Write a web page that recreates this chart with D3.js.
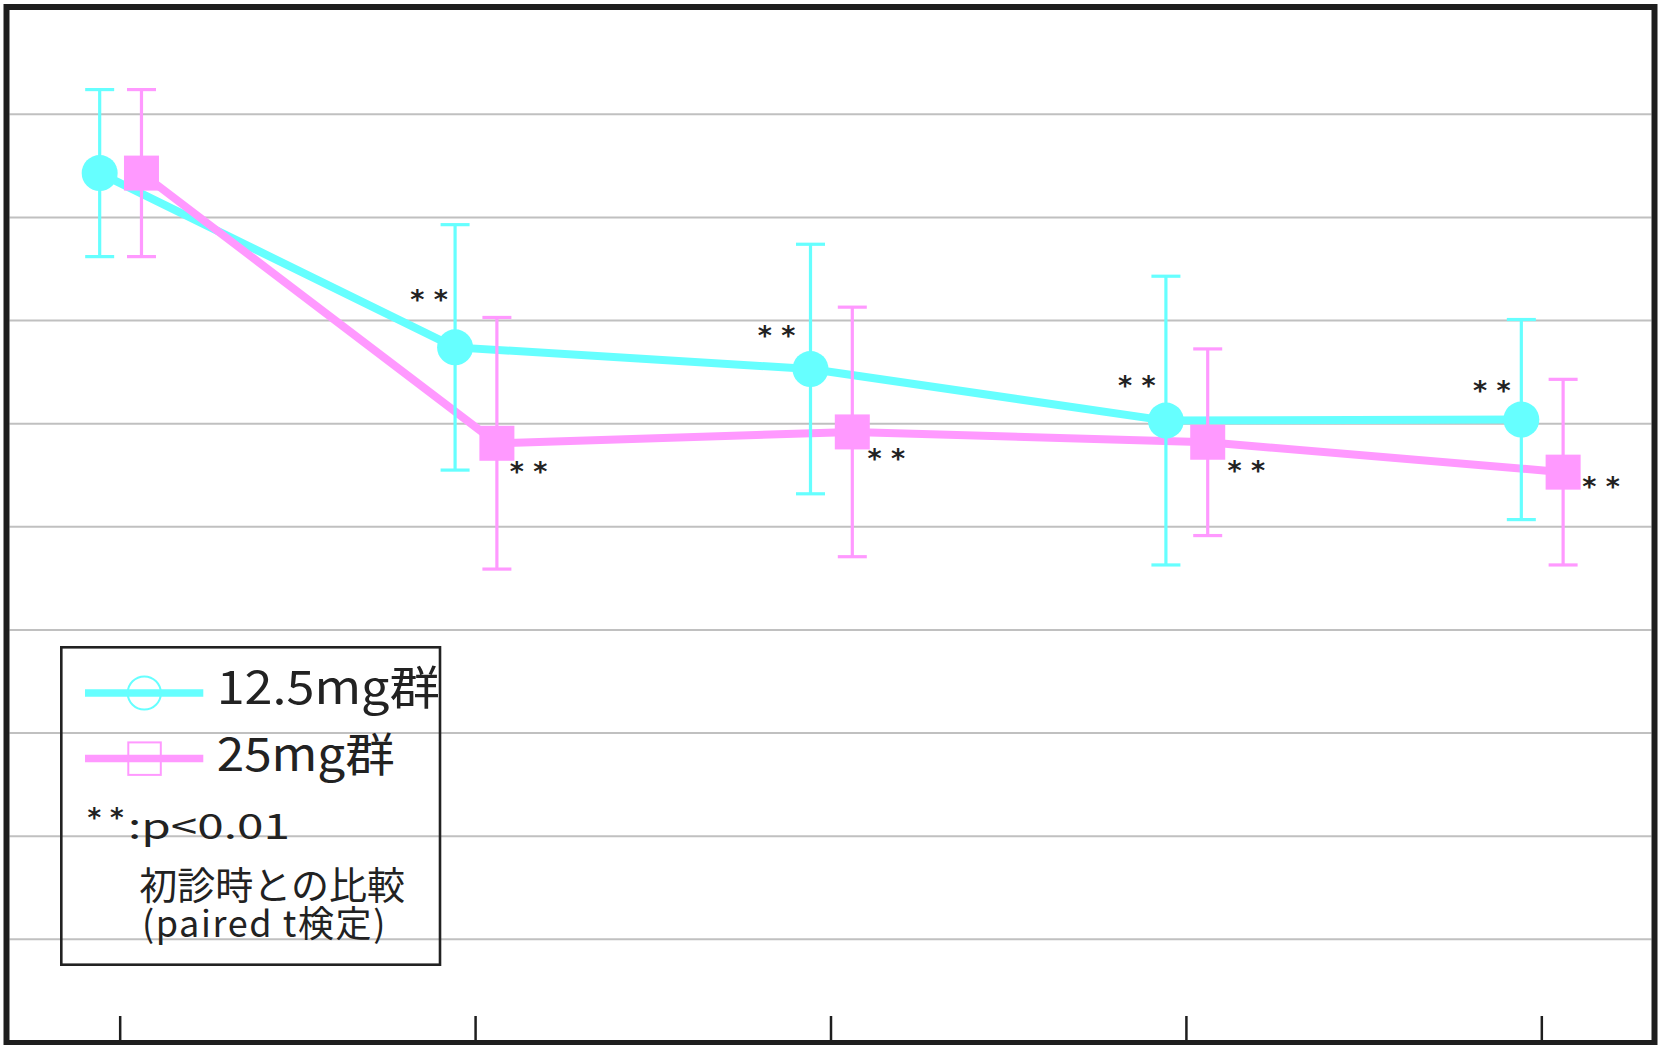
<!DOCTYPE html>
<html>
<head>
<meta charset="utf-8">
<script src="https://cdn.jsdelivr.net/npm/d3@7"></script>
<style>
  html, body { margin: 0; padding: 0; background: #ffffff; }
  svg { display: block; }
</style>
</head>
<body>
<svg id="chart" width="1662" height="1045"></svg>
<script>
// ---------------- DATA ----------------
const categories = ["t0", "t1", "t2", "t3", "t4"];           // time points (no labels shown)
const seriesNames = ["12.5mg群", "25mg群"];
const mean125 = [8.43, 6.74, 6.53, 6.03, 6.04];
const err125  = [0.81, 1.19, 1.21, 1.40, 0.97];
const sig125  = [false, true, true, true, true];
const mean25  = [8.43, 5.81, 5.92, 5.82, 5.53];
const err25   = [0.81, 1.22, 1.21, 0.905, 0.90];
const sig25   = [false, true, true, true, true];
const yTickValues = [1, 2, 3, 4, 5, 6, 7, 8, 9];
const sigText = "* *";
const legendNote = ["* *", ":p<0.01", "初診時との比較", "(paired t検定)"];

// ---------------- LAYOUT ----------------
const W = 1662, H = 1045;
const plot = { left: 9.5, right: 1651.5, top: 10, bottom: 1040 };
const cyan = "#66ffff", pink = "#ff99ff", ink = "#1e1e1e", grid = "#c0c0c0";
// label nudges (px) relative to each marker
const nudge125 = [[0, 0], [-26, -52], [-34, -38], [-29, -40], [-29.5, -34]];
const nudge25  = [[0, 0], [31.6, 24], [34, 22.5], [38.5, 24], [38, 10]];

const svg = d3.select("#chart");
svg.append("rect").attr("width", W).attr("height", H).attr("fill", "#fff");

const x = d3.scalePoint().domain(categories).range([plot.left, plot.right]).padding(0.31);
const dodge = d3.scalePoint().domain(seriesNames).range([-20, 21.8]);
const y = d3.scaleLinear().domain([0, 10]).range([1042.4, 11.2]);

// gridlines
svg.append("g").selectAll("line").data(yTickValues).join("line")
  .attr("x1", plot.left).attr("x2", plot.right)
  .attr("y1", d => y(d)).attr("y2", d => y(d))
  .attr("stroke", grid).attr("stroke-width", 2);

// bottom ticks (pointing up, no labels)
const xAxis = d3.axisBottom(x).tickSizeInner(-24).tickSizeOuter(0).tickFormat("");
const gx = svg.append("g").attr("transform", `translate(0,${plot.bottom})`).call(xAxis);
gx.select(".domain").remove();
gx.selectAll(".tick line").attr("stroke", ink).attr("stroke-width", 2.5);

const series = [
  { name: seriesNames[0], mean: mean125, err: err125, sig: sig125, color: cyan, shape: "circle", nudge: nudge125 },
  { name: seriesNames[1], mean: mean25,  err: err25,  sig: sig25,  color: pink, shape: "square", nudge: nudge25 }
];
series.forEach(s => {
  s.pts = categories.map((c, i) => ({ cx: x(c) + dodge(s.name), m: s.mean[i], e: s.err[i], sig: s.sig[i], i }));
});

// lines
const line = d3.line().x(d => d.cx).y(d => y(d.m));
series.forEach(s => {
  svg.append("path").datum(s.pts).attr("d", line)
    .attr("fill", "none").attr("stroke", s.color).attr("stroke-width", 8)
    .attr("stroke-linejoin", "round");
});

// error bars
series.forEach(s => {
  const g = svg.append("g").attr("stroke", s.color).attr("stroke-width", 3.2);
  g.selectAll("line.v").data(s.pts).join("line").attr("class", "v")
    .attr("x1", d => d.cx).attr("x2", d => d.cx)
    .attr("y1", d => y(d.m + d.e)).attr("y2", d => y(d.m - d.e));
  g.selectAll("line.t").data(s.pts).join("line").attr("class", "t")
    .attr("x1", d => d.cx - 14.5).attr("x2", d => d.cx + 14.5)
    .attr("y1", d => y(d.m + d.e)).attr("y2", d => y(d.m + d.e));
  g.selectAll("line.b").data(s.pts).join("line").attr("class", "b")
    .attr("x1", d => d.cx - 14.5).attr("x2", d => d.cx + 14.5)
    .attr("y1", d => y(d.m - d.e)).attr("y2", d => y(d.m - d.e));
});

// markers
series.forEach(s => {
  if (s.shape === "circle") {
    svg.append("g").selectAll("circle").data(s.pts).join("circle")
      .attr("cx", d => d.cx).attr("cy", d => y(d.m)).attr("r", 18).attr("fill", s.color);
  } else {
    svg.append("g").selectAll("rect").data(s.pts).join("rect")
      .attr("x", d => d.cx - 17.5).attr("y", d => y(d.m) - 17.5)
      .attr("width", 35).attr("height", 35).attr("fill", s.color);
  }
});

// significance labels
series.forEach(s => {
  svg.append("g").selectAll("text").data(s.pts.filter(d => d.sig)).join("text")
    .attr("x", d => d.cx + s.nudge[d.i][0])
    .attr("y", d => y(d.m) + s.nudge[d.i][1] + 14)
    .attr("text-anchor", "middle")
    .attr("font-family", "DejaVu Sans")
    .attr("font-weight", "bold")
    .attr("font-size", 27)
    .attr("fill", "#222")
    .text(sigText);
});

// frame
svg.append("rect").attr("x", 6.5).attr("y", 7).attr("width", 1648).attr("height", 1036)
  .attr("fill", "none").attr("stroke", ink).attr("stroke-width", 6);

// legend
const lg = svg.append("g");
lg.append("rect").attr("x", 61.3).attr("y", 647.3).attr("width", 378.7).attr("height", 317.4)
  .attr("fill", "none").attr("stroke", "#222").attr("stroke-width", 2.6);
const fontJP = "'Noto Sans CJK JP', 'Noto Sans', sans-serif";
const legendRows = [
  { s: series[0], ly: 693, ty: 704, tl: 223 },
  { s: series[1], ly: 758.4, ty: 770.7, tl: 178 }
];
legendRows.forEach(r => {
  lg.append("line").attr("x1", 85).attr("x2", 203.3).attr("y1", r.ly).attr("y2", r.ly)
    .attr("stroke", r.s.color).attr("stroke-width", 7.5);
  if (r.s.shape === "circle") {
    lg.append("circle").attr("cx", 144.3).attr("cy", r.ly).attr("r", 16.6)
      .attr("fill", "none").attr("stroke", r.s.color).attr("stroke-width", 2);
  } else {
    lg.append("rect").attr("x", 128.3).attr("y", r.ly - 16).attr("width", 32.5).attr("height", 32.5)
      .attr("fill", "none").attr("stroke", r.s.color).attr("stroke-width", 2);
  }
  lg.append("text").attr("x", 216.7).attr("y", r.ty)
    .attr("font-family", fontJP).attr("font-size", 46).attr("fill", "#222")
    .attr("textLength", r.tl).attr("lengthAdjust", "spacingAndGlyphs")
    .text(r.s.name);
});
// significance note: asterisks + p-value
lg.append("text").attr("x", 105.5).attr("y", 826.5).attr("text-anchor", "middle")
  .attr("font-family", "DejaVu Sans").attr("font-weight", "bold").attr("font-size", 26).attr("fill", "#222")
  .text(legendNote[0]);
lg.append("text").attr("x", 128).attr("y", 839.3)
  .attr("font-family", fontJP).attr("font-size", 35).attr("fill", "#222")
  .attr("textLength", 162).attr("lengthAdjust", "spacingAndGlyphs")
  .text(legendNote[1]);
// two-line comment in one text element
const cm = lg.append("text").attr("font-family", fontJP).attr("fill", "#222");
cm.append("tspan").attr("x", 139.3).attr("y", 899).attr("font-size", 38).text(legendNote[2]);
cm.append("tspan").attr("x", 142).attr("y", 937).attr("font-size", 36).attr("letter-spacing", 1.6).text(legendNote[3]);
</script>
</body>
</html>
